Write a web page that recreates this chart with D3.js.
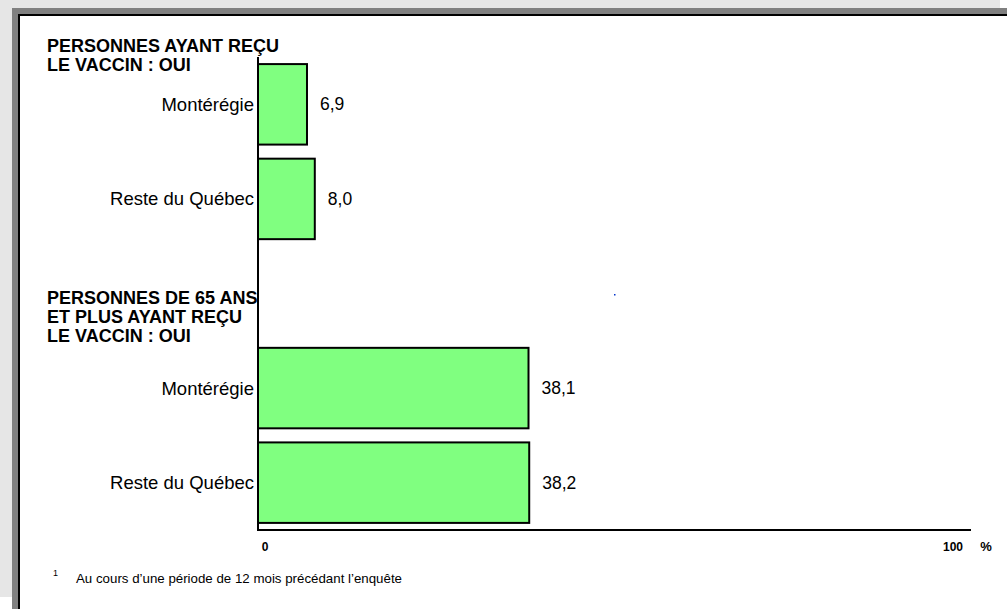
<!DOCTYPE html>
<html>
<head>
<meta charset="utf-8">
<script src="https://cdn.jsdelivr.net/npm/d3@7"></script>
<style>
  body { margin: 0; background: #fff; }
  svg { display: block; font-family: "Liberation Sans", Arial, sans-serif; }
</style>
</head>
<body>
<div id="chart"></div>
<script>
// Data
const rowKeys = ["g1-mon", "g1-rest", "gap", "g2-mon", "g2-rest"];
const rowLabels = ["Montérégie", "Reste du Québec", "", "Montérégie", "Reste du Québec"];
const rowValues = [6.9, 8.0, null, 38.1, 38.2];
const groupTitles = [
  ["PERSONNES AYANT REÇU", "LE VACCIN : OUI"],
  ["PERSONNES DE 65 ANS", "ET PLUS AYANT REÇU", "LE VACCIN : OUI"]
];
const tickLabels = ["0", "100"];
const footnote = "Au cours d\u2019une période de 12 mois précédant l\u2019enquête";

const W = 1007, H = 609;
const svg = d3.select("#chart").append("svg")
  .attr("width", W)
  .attr("height", H);

// page background and framed panel
svg.append("rect").attr("width", W).attr("height", H).attr("fill", "#fff");
svg.append("rect").attr("x", 0).attr("y", 0).attr("width", 1000).attr("height", 597).attr("fill", "#e6e6e6");
svg.append("rect").attr("x", 12).attr("y", 8).attr("width", W - 12).attr("height", H - 8).attr("fill", "#808080");
svg.append("rect").attr("x", 19).attr("y", 15).attr("width", W).attr("height", H).attr("fill", "#fff")
  .attr("stroke", "#000").attr("stroke-width", 2);

// scales
const x = d3.scaleLinear().domain([0, 100]).range([258, 968]);
const y = d3.scaleBand().domain(rowKeys).range([57, 530]).paddingInner(0.149).paddingOuter(0.075);

const rows = rowKeys.map((k, i) => ({ key: k, label: rowLabels[i], value: rowValues[i] }))
  .filter(d => d.value != null);

// bars
svg.selectAll(".bar")
  .data(rows)
  .enter().append("rect")
  .attr("class", "bar")
  .attr("x", x(0))
  .attr("y", d => y(d.key))
  .attr("width", d => x(d.value) - x(0))
  .attr("height", y.bandwidth())
  .attr("fill", "#80ff80")
  .attr("stroke", "#000")
  .attr("stroke-width", 2);

// category labels
svg.selectAll(".cat")
  .data(rows)
  .enter().append("text")
  .attr("x", x(0) - 4)
  .attr("y", d => y(d.key) + y.bandwidth() / 2)
  .attr("dy", "0.35em")
  .attr("text-anchor", "end")
  .attr("font-size", "18.5px")
  .text(d => d.label);

// value labels
svg.selectAll(".val")
  .data(rows)
  .enter().append("text")
  .attr("x", d => x(d.value) + 13)
  .attr("y", d => y(d.key) + y.bandwidth() / 2)
  .attr("dy", "0.35em")
  .attr("font-size", "17.5px")
  .text(d => d.value.toFixed(1).replace(".", ","));

// axes lines
svg.append("line")
  .attr("x1", x(0)).attr("x2", x(0))
  .attr("y1", 57).attr("y2", 531)
  .attr("stroke", "#000").attr("stroke-width", 2);
svg.append("line")
  .attr("x1", x(0) - 1).attr("x2", 971)
  .attr("y1", 530).attr("y2", 530)
  .attr("stroke", "#000").attr("stroke-width", 2);

// tick labels
svg.selectAll(".tick")
  .data(tickLabels)
  .enter().append("text")
  .attr("x", d => x(+d) + (d === "0" ? 7 : -15))
  .attr("y", 551)
  .attr("text-anchor", "middle")
  .attr("font-size", "12px")
  .attr("font-weight", "bold")
  .text(d => d);
svg.append("text")
  .attr("x", 986).attr("y", 551)
  .attr("text-anchor", "middle")
  .attr("font-size", "13px")
  .attr("font-weight", "bold")
  .text("%");

// group titles
const titleTops = [52, 304];
groupTitles.forEach((lines, gi) => {
  const t = svg.append("text")
    .attr("x", 47)
    .attr("y", titleTops[gi])
    .attr("font-size", "18px")
    .attr("font-weight", "bold");
  lines.forEach((ln, li) => {
    t.append("tspan").attr("x", 47).attr("dy", li === 0 ? 0 : 19).text(ln);
  });
});

// footnote
svg.append("text")
  .attr("x", 53).attr("y", 576)
  .attr("font-size", "9px")
  .text("1");
svg.append("text")
  .attr("x", 76).attr("y", 583)
  .attr("font-size", "13.3px")
  .text(footnote);

// stray blue pixel in the original
svg.append("rect").attr("x", 614).attr("y", 294).attr("width", 1.5).attr("height", 1.5).attr("fill", "#0033cc");
</script>
</body>
</html>
